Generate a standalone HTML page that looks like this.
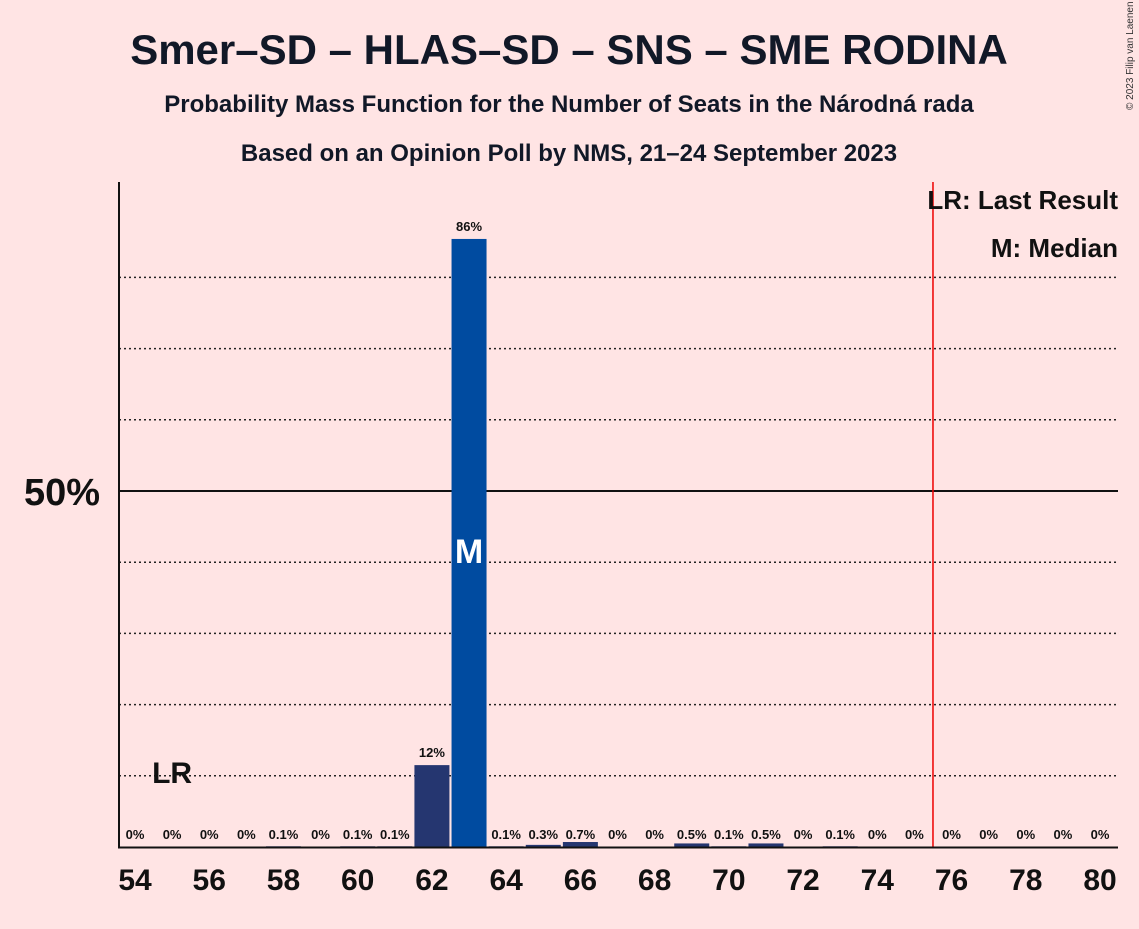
<!DOCTYPE html>
<html><head><meta charset="utf-8"><style>
body{margin:0;background:#FFE4E4;font-family:"Liberation Sans",sans-serif;}
svg text{font-family:"Liberation Sans",sans-serif;}
</style></head><body>
<svg width="1139" height="924" xmlns="http://www.w3.org/2000/svg">
<rect width="1139" height="924" fill="#FFE4E4"/>
<text x="569" y="64" text-anchor="middle" font-size="42" font-weight="bold" fill="#111827">Smer–SD – HLAS–SD – SNS – SME RODINA</text>
<text x="569" y="112" text-anchor="middle" font-size="24" font-weight="bold" fill="#111827">Probability Mass Function for the Number of Seats in the Národná rada</text>
<text x="569" y="161" text-anchor="middle" font-size="24" font-weight="bold" fill="#111827">Based on an Opinion Poll by NMS, 21–24 September 2023</text>
<text x="1133" y="110" font-size="10" fill="#333" transform="rotate(-90 1133 110)">© 2023 Filip van Laenen</text>
<g id="plot"></g>
</svg>
<script>
const seats=[54,55,56,57,58,59,60,61,62,63,64,65,66,67,68,69,70,71,72,73,74,75,76,77,78,79,80];
const probs=[0,0,0,0,0.1,0,0.1,0.1,11.5,85.4,0.1,0.3,0.7,0,0,0.5,0.1,0.5,0,0.1,0,0,0,0,0,0,0];
const labels=["0%","0%","0%","0%","0.1%","0%","0.1%","0.1%","12%","86%","0.1%","0.3%","0.7%","0%","0%","0.5%","0.1%","0.5%","0%","0.1%","0%","0%","0%","0%","0%","0%","0%"];
const gridVals=[10,20,30,40,60,70,80];
const xTicks=[54,56,58,60,62,64,66,68,70,72,74,76,78,80];
const lastResult=55, median=63, majority=75.5;
const NS="http://www.w3.org/2000/svg";
const g=document.getElementById('plot');
const x=s=>135+(s-54)*(1100-135)/26;
const y=p=>847-p*7.12;
function mk(t,a){const e=document.createElementNS(NS,t);for(const k in a)e.setAttribute(k,a[k]);g.appendChild(e);return e;}
gridVals.forEach(v=>{const l=mk('line',{x1:119,x2:1118,y1:y(v),y2:y(v),stroke:'#222','stroke-width':1.5,'stroke-dasharray':'2,3'});

});
const l50=mk('line',{x1:119,x2:1118,y1:y(50),y2:y(50),stroke:'#111','stroke-width':2});


const t50=mk('text',{x:100,y:y(50)+14,'text-anchor':'end','font-size':38,'font-weight':'bold',fill:'#111'});t50.textContent='50%';


seats.forEach((s,i)=>{
 const p=probs[i];
 if(p>0){const r=mk('rect',{x:x(s)-17.5,y:y(p),width:35,height:847-y(p),fill:s===median?'#004BA0':'#253670'});
 
 }
 const ly=p>5?y(p)-8:839;
 const t=mk('text',{x:x(s),y:ly,'text-anchor':'middle','font-size':13,'font-weight':'bold',fill:'#111'});t.textContent=labels[i];
 
 
});
const m=mk('text',{x:x(median),y:y(42)+15,'text-anchor':'middle','font-size':34,'font-weight':'bold',fill:'#fff'});m.textContent='M';


const lr=mk('text',{x:x(lastResult),y:783,'text-anchor':'middle','font-size':30,'font-weight':'bold',fill:'#111'});lr.textContent='LR';


const ml=mk('line',{x1:x(majority),x2:x(majority),y1:182,y2:847,stroke:'#e00','stroke-width':1.5});


const ya=mk('line',{x1:119,x2:119,y1:182,y2:848,stroke:'#111','stroke-width':2});


const xa=mk('line',{x1:118,x2:1118,y1:847.5,y2:847.5,stroke:'#111','stroke-width':2});


xTicks.forEach(s=>{const t=mk('text',{x:x(s),y:890,'text-anchor':'middle','font-size':30,'font-weight':'bold',fill:'#111'});t.textContent=s;

});
const lg1=mk('text',{x:1118,y:209,'text-anchor':'end','font-size':26,'font-weight':'bold',fill:'#111'});lg1.textContent='LR: Last Result';


const lg2=mk('text',{x:1118,y:257,'text-anchor':'end','font-size':26,'font-weight':'bold',fill:'#111'});lg2.textContent='M: Median';


</script>
</body></html>
